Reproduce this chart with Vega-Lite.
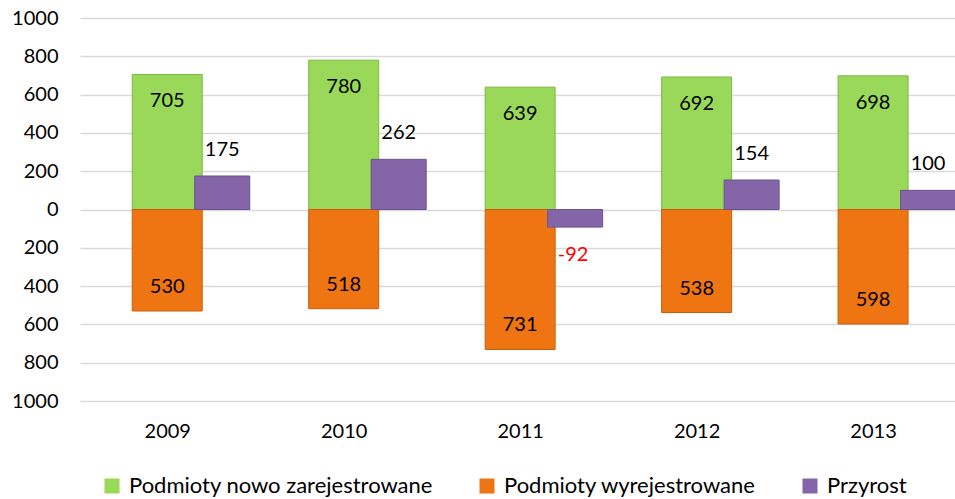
{
  "$schema": "https://vega.github.io/schema/vega-lite/v6.json",
  "autosize": "none",
  "width": 875,
  "height": 383,
  "padding": {"left": 80, "top": 18, "right": 0, "bottom": 98},
  "background": "white",
  "config": {
    "view": {"stroke": null},
    "font": "Lato",
    "axis": {"labelFont": "Lato", "labelColor": "#000000", "labelFontSize": 20},
    "legend": {"labelFont": "Lato", "labelColor": "#000000", "labelFontSize": 22}
  },
  "data": {
    "values": [
      {"year": 2009, "series": "Podmioty nowo zarejestrowane", "value": 705},
      {"year": 2010, "series": "Podmioty nowo zarejestrowane", "value": 780},
      {"year": 2011, "series": "Podmioty nowo zarejestrowane", "value": 639},
      {"year": 2012, "series": "Podmioty nowo zarejestrowane", "value": 692},
      {"year": 2013, "series": "Podmioty nowo zarejestrowane", "value": 698},
      {"year": 2009, "series": "Podmioty wyrejestrowane", "value": -530},
      {"year": 2010, "series": "Podmioty wyrejestrowane", "value": -518},
      {"year": 2011, "series": "Podmioty wyrejestrowane", "value": -731},
      {"year": 2012, "series": "Podmioty wyrejestrowane", "value": -538},
      {"year": 2013, "series": "Podmioty wyrejestrowane", "value": -598},
      {"year": 2009, "series": "Przyrost", "value": 175},
      {"year": 2010, "series": "Przyrost", "value": 262},
      {"year": 2011, "series": "Przyrost", "value": -92},
      {"year": 2012, "series": "Przyrost", "value": 154},
      {"year": 2013, "series": "Przyrost", "value": 100}
    ]
  },
  "transform": [
    {"calculate": "datum.series == 'Podmioty wyrejestrowane' ? '' + abs(datum.value) : '' + datum.value", "as": "label"}
  ],
  "encoding": {
    "x": {
      "field": "year",
      "type": "quantitative",
      "scale": {"domain": [2008.534, 2013.436], "nice": false, "zero": false},
      "axis": {
        "title": null,
        "values": [2009, 2010, 2011, 2012, 2013],
        "format": "d",
        "grid": false,
        "domain": false,
        "ticks": false,
        "labelPadding": 20,
        "labelFlush": false
      }
    },
    "y": {
      "field": "value",
      "type": "quantitative",
      "scale": {"domain": [-1000, 1000], "nice": false, "zero": false},
      "axis": {
        "title": null,
        "values": [-1000, -800, -600, -400, -200, 0, 200, 400, 600, 800, 1000],
        "labelExpr": "'' + abs(datum.value)",
        "grid": true,
        "gridColor": "#d9d9d9",
        "gridWidth": 1.5,
        "domain": false,
        "ticks": false,
        "labelPadding": 22
      }
    }
  },
  "layer": [
    {
      "transform": [{"filter": "datum.series != 'Przyrost'"}],
      "mark": {"type": "bar", "width": 70, "strokeWidth": 1},
      "encoding": {
        "color": {
          "field": "series",
          "type": "nominal",
          "scale": {
            "domain": ["Podmioty nowo zarejestrowane", "Podmioty wyrejestrowane", "Przyrost"],
            "range": ["#99D858", "#EF7512", "#8466A8"]
          },
          "legend": {
            "title": null,
            "orient": "none",
            "legendX": 21,
            "legendY": 457,
            "direction": "horizontal",
            "symbolType": "square",
            "symbolSize": 225,
            "symbolStrokeWidth": 0,
            "columnPadding": 43,
            "labelOffset": 6,
            "labelLimit": 0
          }
        },
        "stroke": {
          "field": "series",
          "type": "nominal",
          "scale": {
            "domain": ["Podmioty nowo zarejestrowane", "Podmioty wyrejestrowane", "Przyrost"],
            "range": ["#7DB845", "#C65F0C", "#6A5290"]
          },
          "legend": null
        }
      }
    },
    {
      "transform": [{"filter": "datum.series == 'Przyrost'"}],
      "mark": {"type": "bar", "width": 55, "xOffset": 55, "strokeWidth": 1},
      "encoding": {
        "color": {"field": "series", "type": "nominal"},
        "stroke": {"field": "series", "type": "nominal", "legend": null}
      }
    },
    {
      "transform": [{"filter": "datum.series == 'Podmioty nowo zarejestrowane'"}],
      "mark": {"type": "text", "dy": 27, "fontSize": 20, "color": "#000000", "baseline": "middle"},
      "encoding": {"text": {"field": "label"}}
    },
    {
      "transform": [{"filter": "datum.series == 'Podmioty wyrejestrowane'"}],
      "mark": {"type": "text", "dy": -24, "fontSize": 20, "color": "#000000", "baseline": "middle"},
      "encoding": {"text": {"field": "label"}}
    },
    {
      "transform": [{"filter": "datum.series == 'Przyrost' && datum.value >= 0"}],
      "mark": {"type": "text", "dy": -26, "xOffset": 55, "fontSize": 20, "color": "#000000", "baseline": "middle"},
      "encoding": {"text": {"field": "label"}}
    },
    {
      "transform": [{"filter": "datum.series == 'Przyrost' && datum.value < 0"}],
      "mark": {"type": "text", "dy": 28, "xOffset": 53, "fontSize": 20, "color": "#FF0000", "baseline": "middle"},
      "encoding": {"text": {"field": "label"}}
    }
  ]
}
